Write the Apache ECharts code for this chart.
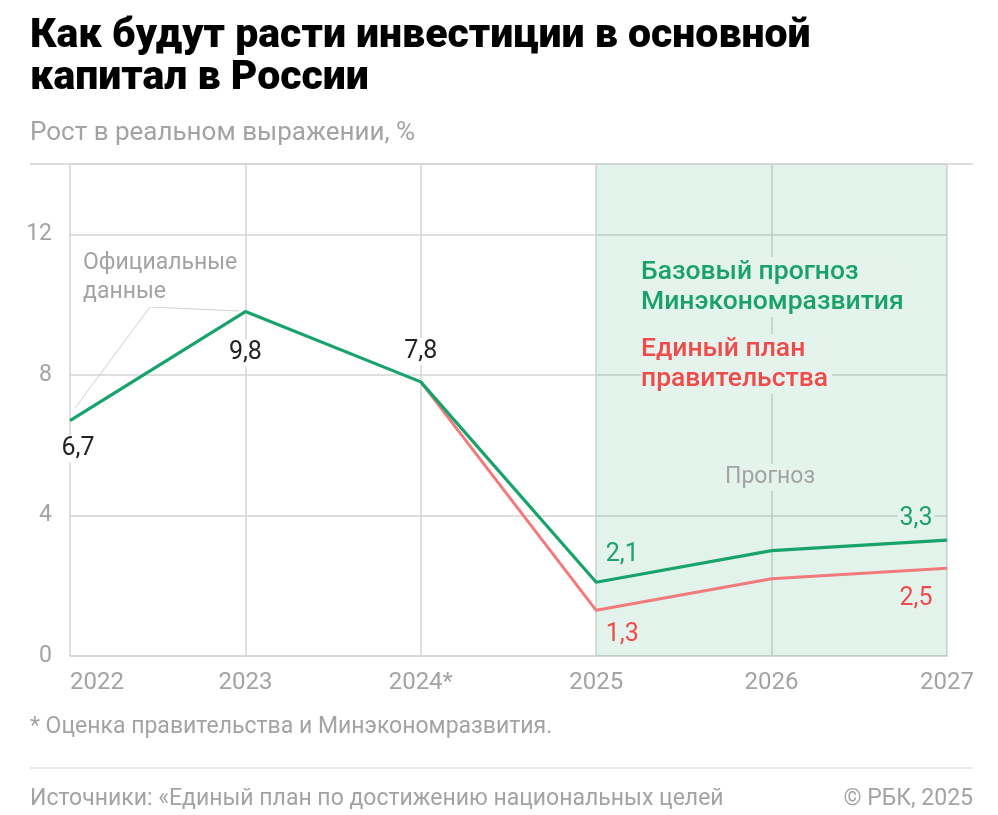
<!DOCTYPE html>
<html>
<head>
<meta charset="utf-8">
<script src="https://cdn.jsdelivr.net/npm/echarts@6/dist/echarts.min.js"></script>
<style>
html,body{margin:0;padding:0;background:#fff;}
#c{width:998px;height:815px;}
</style>
</head>
<body>
<div id="c"></div>
<script>
var categories = ['2022', '2023', '2024*', '2025', '2026', '2027'];
var baseForecast = [6.7, 9.8, 7.8, 2.1, 3.0, 3.3];
var unifiedPlan = [null, null, 7.8, 1.3, 2.2, 2.5];
var yTicks = [0, 4, 8, 12];

var FONT = 'Roboto';
var GREEN = '#17a36b';
var GREEN_TXT = '#1aa26a';
var RED = '#f27a7a';
var RED_TXT = '#ef4b4b';
var SHADE = '#e4f4ec';
var GRID = '#d5d5d5';
var GRAY = '#a3a3a3';

function lbl(pos, dist, off, color, bg) {
  return {show: true, position: pos, distance: dist, offset: off, color: color,
    fontFamily: FONT, fontSize: 25, backgroundColor: bg, padding: [1, 2],
    formatter: function (p) { return String(p.value).replace('.', ','); }};
}
var greenLabels = [
  lbl('bottom', 15, [8, 0], '#222', '#fff'),
  lbl('bottom', 28, [0, 0], '#222', '#fff'),
  lbl('top', 17, [0, 0], '#222', '#fff'),
  lbl('top', 14, [26, 0], GREEN_TXT, SHADE),
  null,
  lbl('top', 8, [-31, 0], GREEN_TXT, SHADE)
];
var redLabels = [null, null, null,
  lbl('bottom', 11, [26, 0], RED_TXT, SHADE),
  null,
  lbl('bottom', 17, [-31, 0], RED_TXT, SHADE)
];
function build(vals, labels) {
  return vals.map(function (v, i) {
    var o = {value: v};
    if (labels[i]) o.label = labels[i];
    return o;
  });
}

var chart = echarts.init(document.getElementById('c'));
chart.setOption({
  animation: false,
  backgroundColor: '#fff',
  grid: {left: 70, right: 51, top: 164, bottom: 159, containLabel: false},
  xAxis: {
    type: 'category',
    boundaryGap: false,
    data: categories.map(function (c, i) {
      return i === 0 ? {value: c, textStyle: {align: 'left'}} : c;
    }),
    axisLine: {show: true, lineStyle: {color: GRID, width: 1.5}},
    axisTick: {show: false},
    axisLabel: {color: GRAY, fontFamily: FONT, fontSize: 24, margin: 15},
    splitLine: {show: true, lineStyle: {color: GRID, width: 1.5}}
  },
  yAxis: {
    type: 'value',
    min: 0, max: 14, interval: 4,
    axisLine: {show: false},
    axisTick: {show: false},
    axisLabel: {color: GRAY, fontFamily: FONT, fontSize: 23, margin: 18,
      verticalAlign: 'middle', padding: [4, 0, 0, 0],
      formatter: function (v) { return yTicks.indexOf(v) >= 0 ? String(v) : ''; }},
    splitLine: {show: true, lineStyle: {color: GRID, width: 1.5}}
  },
  series: [
    {
      type: 'line', name: 'Единый план правительства',
      data: build(unifiedPlan, redLabels),
      symbol: 'circle', symbolSize: 0, showSymbol: true,
      lineStyle: {color: RED, width: 3}, itemStyle: {color: RED},
      z: 3,
      markArea: {
        silent: true,
        itemStyle: {color: 'rgba(20,160,100,0.12)'},
        data: [[{xAxis: '2025'}, {xAxis: '2027'}]]
      }
    },
    {
      type: 'line', name: 'Базовый прогноз Минэкономразвития',
      data: build(baseForecast, greenLabels),
      symbol: 'circle', symbolSize: 0, showSymbol: true,
      lineStyle: {color: GREEN, width: 3.2}, itemStyle: {color: GREEN},
      z: 4
    }
  ],
  graphic: [
    {type: 'text', left: 30, top: 16, z: 100,
      style: {text: 'Как будут расти инвестиции в основной\nкапитал в России', fill: '#000',
        font: '900 41px ' + FONT, lineHeight: 42}},
    {type: 'text', left: 30, top: 120, z: 100,
      style: {text: 'Рост в реальном выражении, %', fill: GRAY, font: '26px ' + FONT}},
    {type: 'line', z: 100, shape: {x1: 30, y1: 164, x2: 973, y2: 164},
      style: {stroke: GRID, lineWidth: 1.5}},
    {type: 'polyline', z: 5, shape: {points: [[75, 408], [150, 307], [239, 311]]},
      style: {stroke: '#cfcfcf', lineWidth: 1, fill: null}},
    {type: 'text', left: 83, top: 249, z: 100,
      style: {text: 'Официальные\nданные', fill: GRAY, font: '23px ' + FONT, lineHeight: 29,
        backgroundColor: '#fff'}},
    {type: 'text', left: 641, top: 257, z: 100,
      style: {text: 'Базовый прогноз\nМинэкономразвития', fill: GREEN_TXT, font: '500 26.5px ' + FONT,
        lineHeight: 30, backgroundColor: SHADE, padding: [0, 4, 0, 0]}},
    {type: 'text', left: 641, top: 334, z: 100,
      style: {text: 'Единый план\nправительства', fill: RED_TXT, font: '500 26.5px ' + FONT,
        lineHeight: 30, backgroundColor: SHADE, padding: [0, 4, 0, 0]}},
    {type: 'text', left: 723, top: 464, z: 100,
      style: {text: 'Прогноз', fill: GRAY, font: '23px ' + FONT, backgroundColor: SHADE,
        padding: [2, 2]}},
    {type: 'text', left: 30, top: 716, z: 100,
      style: {text: '* Оценка правительства и Минэкономразвития.', fill: GRAY, font: '23px ' + FONT}},
    {type: 'line', z: 100, shape: {x1: 30, y1: 768, x2: 973, y2: 768},
      style: {stroke: '#e3e3e3', lineWidth: 1.5}},
    {type: 'text', left: 30, top: 788, z: 100,
      style: {text: 'Источники: «Единый план по достижению национальных целей', fill: GRAY, font: '23px ' + FONT}},
    {type: 'text', right: 25, top: 788, z: 100,
      style: {text: '© РБК, 2025', fill: GRAY, font: '23px ' + FONT, align: 'right'}}
  ]
});
</script>
</body>
</html>
